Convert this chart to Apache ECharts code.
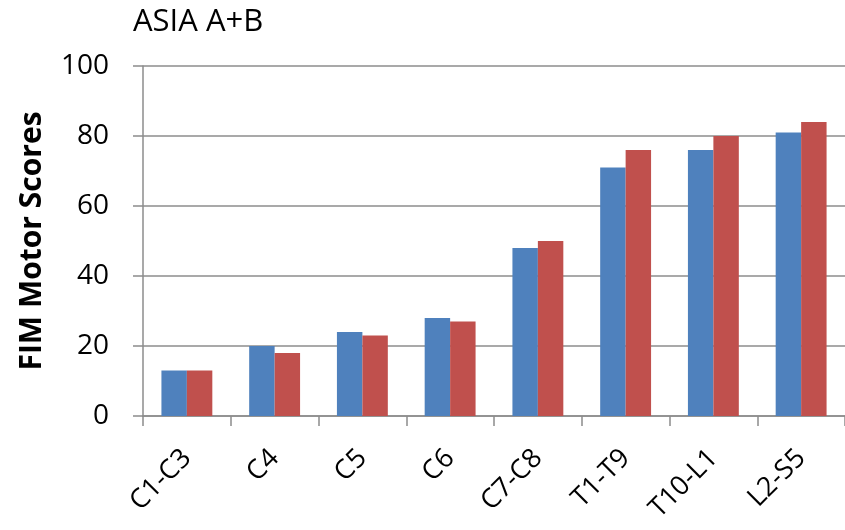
<!DOCTYPE html>
<html>
<head>
<meta charset="utf-8">
<script src="https://cdn.jsdelivr.net/npm/echarts@6/dist/echarts.min.js"></script>
<style>
  html, body { margin: 0; padding: 0; background: #fff; }
  #chart { width: 845px; height: 530px; }
</style>
</head>
<body>
<div id="chart"></div>
<script>
const categories = ['C1-C3', 'C4', 'C5', 'C6', 'C7-C8', 'T1-T9', 'T10-L1', 'L2-S5'];
const blueValues = [13, 20, 24, 28, 48, 71, 76, 81];
const redValues = [13, 18, 23, 27, 50, 76, 80, 84];
const yTicks = { min: 0, max: 100, interval: 20 };

const font = '"Open Sans", "Liberation Sans", sans-serif';
const chart = echarts.init(document.getElementById('chart'));

chart.setOption({
  animation: false,
  title: {
    text: 'ASIA A+B',
    left: 128,
    top: 2,
    textStyle: { fontFamily: font, fontSize: 31, fontWeight: 'normal', color: '#000' }
  },
  grid: { left: 143, width: 709, top: 66, height: 350 },
  xAxis: {
    type: 'category',
    data: categories,
    axisLine: { lineStyle: { color: '#8c8c8c', width: 1.5 } },
    axisTick: { show: true, length: 10, lineStyle: { color: '#8c8c8c', width: 1.5 } },
    axisLabel: {
      rotate: 45,
      margin: 38,
      fontFamily: font,
      fontSize: 27,
      color: '#000'
    }
  },
  yAxis: {
    type: 'value',
    min: yTicks.min,
    max: yTicks.max,
    interval: yTicks.interval,
    name: 'FIM Motor Scores',
    nameLocation: 'middle',
    nameGap: 96,
    nameTextStyle: { fontFamily: font, fontSize: 30, fontWeight: 'bold', color: '#000' },
    axisLine: { show: true, lineStyle: { color: '#8c8c8c', width: 1.5 } },
    axisTick: { show: true, length: 10, lineStyle: { color: '#8c8c8c', width: 1.5 } },
    axisLabel: { margin: 34, fontFamily: font, fontSize: 28, color: '#000' },
    splitLine: { lineStyle: { color: '#8c8c8c', width: 1.5 } }
  },
  series: [
    {
      type: 'bar',
      data: blueValues,
      barGap: '0%',
      barCategoryGap: '42%',
      itemStyle: { color: '#4F81BD' }
    },
    {
      type: 'bar',
      data: redValues,
      itemStyle: { color: '#C0504D' }
    }
  ]
});
</script>
</body>
</html>
